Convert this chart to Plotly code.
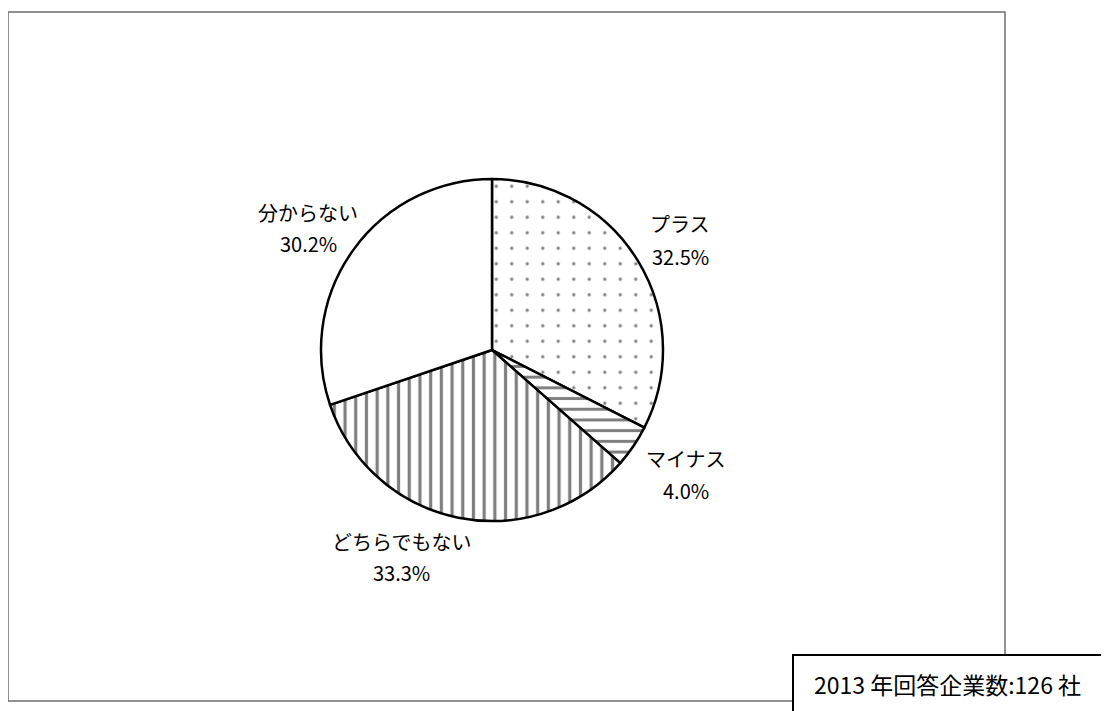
import plotly.graph_objects as go

# Data
labels = ["プラス", "マイナス", "どちらでもない", "分からない"]
values = [32.5, 4.0, 33.3, 30.2]
patterns = [".", "-", "|", ""]
pattern_sizes = [15.5, 10.7, 10.7, 10]
pattern_solidity = [0.035, 0.28, 0.3, 0.1]
note_text = "2013 年回答企業数:126 社"

# page has an 8px body margin: work in page pixels and convert
OFF = 8
W, H = 1109 - OFF, 711 - OFF
FONT = "Noto Sans CJK JP"

def px(x):
    return (x - OFF) / W

def py(y):
    return 1 - (y - OFF) / H

cx, cy, r = 492, 350, 171

fig = go.Figure(
    go.Pie(
        labels=labels,
        values=values,
        sort=False,
        direction="clockwise",
        rotation=0,
        textinfo="none",
        hoverinfo="label+percent",
        marker=dict(
            colors=["white"] * 4,
            line=dict(color="black", width=2.5),
            pattern=dict(
                shape=patterns,
                fgcolor="black",
                bgcolor="white",
                size=pattern_sizes,
                solidity=pattern_solidity,
                fillmode="overlay",
            ),
        ),
        domain=dict(x=[px(cx - r), px(cx + r)], y=[py(cy + r), py(cy - r)]),
        showlegend=False,
    )
)

# label positions (pixel centres of the two text lines)
label_pos = [
    (680, 224, 256),
    (686, 458, 490),
    (401, 541, 572),
    (308, 212, 243),
]
annotations = []
for lab, val, (x, y1, y2) in zip(labels, values, label_pos):
    annotations.append(dict(x=px(x), y=py(y1), xref="paper", yref="paper", text=lab,
                            showarrow=False, xanchor="center", yanchor="middle",
                            font=dict(family=FONT, size=20, color="black")))
    annotations.append(dict(x=px(x), y=py(y2), xref="paper", yref="paper", text=f"{val:.1f}%",
                            showarrow=False, xanchor="center", yanchor="middle",
                            font=dict(family=FONT, size=20, color="black")))

annotations.append(dict(x=px(947), y=py(684), xref="paper", yref="paper", text=note_text,
                        showarrow=False, xanchor="center", yanchor="middle",
                        font=dict(family=FONT, size=23, color="black")))

shapes = [
    dict(type="rect", xref="paper", yref="paper",
         x0=px(8), x1=px(1005), y0=py(701), y1=py(12),
         line=dict(color="#6e6e6e", width=1.5), fillcolor="rgba(0,0,0,0)", layer="below"),
    dict(type="rect", xref="paper", yref="paper",
         x0=px(793), x1=px(1120), y0=py(725), y1=py(655),
         line=dict(color="black", width=2), fillcolor="white", layer="above"),
]

fig.update_layout(
    width=W, height=H,
    margin=dict(l=0, r=0, t=0, b=0),
    paper_bgcolor="white",
    plot_bgcolor="white",
    annotations=annotations,
    shapes=shapes,
    font=dict(family=FONT),
)

fig.write_html("out.html")
